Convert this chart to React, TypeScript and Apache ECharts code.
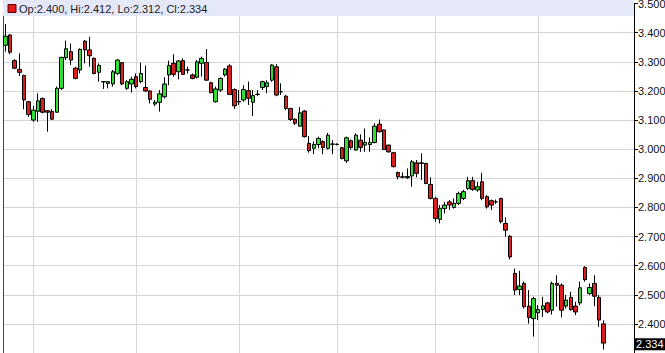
import { useEffect, useRef } from "react";
import * as echarts from "echarts";

const opens = [
  3.357, 3.392, 3.304, 3.274, 3.253, 3.163, 3.100, 3.130, 3.174, 3.132,
  3.129, 3.127, 3.209, 3.314, 3.335, 3.278, 3.272, 3.371, 3.341, 3.312,
  3.264, 3.232, 3.226, 3.224, 3.260, 3.297, 3.209, 3.224, 3.249, 3.232,
  3.212, 3.200, 3.155, 3.161, 3.180, 3.255, 3.295, 3.266, 3.304, 3.272,
  3.255, 3.247, 3.295, 3.298, 3.228, 3.163, 3.203, 3.255, 3.286, 3.205,
  3.164, 3.169, 3.201, 3.161, 3.188, 3.212, 3.215, 3.237, 3.283, 3.197,
  3.182, 3.140, 3.103, 3.079, 3.131, 3.020, 3.003, 3.016, 3.026, 3.003,
  3.017, 3.016, 3.005, 2.960, 3.029, 2.997, 3.031, 3.014, 3.016, 3.023,
  3.086, 3.066, 3.014, 2.988, 2.920, 2.905, 2.902, 2.908, 2.953, 2.953,
  2.951, 2.879, 2.831, 2.759, 2.796, 2.819, 2.800, 2.814, 2.831, 2.865,
  2.892, 2.860, 2.888, 2.837, 2.823, 2.819, 2.831, 2.745, 2.701, 2.573,
  2.518, 2.539, 2.461, 2.418, 2.438, 2.449, 2.472, 2.447, 2.539, 2.533,
  2.461, 2.491, 2.461, 2.472, 2.594, 2.504, 2.539, 2.491, 2.400,
];
const highs = [
  3.430, 3.395, 3.309, 3.329, 3.256, 3.166, 3.148, 3.192, 3.178, 3.134,
  3.137, 3.215, 3.318, 3.373, 3.363, 3.283, 3.346, 3.375, 3.386, 3.315,
  3.295, 3.234, 3.233, 3.272, 3.309, 3.300, 3.237, 3.249, 3.260, 3.297,
  3.287, 3.203, 3.169, 3.203, 3.247, 3.304, 3.326, 3.306, 3.312, 3.283,
  3.260, 3.306, 3.318, 3.344, 3.232, 3.215, 3.247, 3.278, 3.292, 3.209,
  3.203, 3.220, 3.232, 3.203, 3.203, 3.235, 3.237, 3.292, 3.292, 3.226,
  3.186, 3.142, 3.106, 3.145, 3.134, 3.045, 3.026, 3.043, 3.031, 3.056,
  3.031, 3.020, 3.008, 3.043, 3.033, 3.054, 3.051, 3.071, 3.040, 3.089,
  3.102, 3.068, 3.016, 2.991, 2.923, 2.920, 2.934, 2.963, 2.963, 2.986,
  2.953, 2.903, 2.837, 2.808, 2.819, 2.825, 2.831, 2.854, 2.860, 2.905,
  2.905, 2.888, 2.919, 2.842, 2.827, 2.827, 2.833, 2.766, 2.705, 2.590,
  2.582, 2.545, 2.516, 2.493, 2.464, 2.493, 2.476, 2.545, 2.567, 2.539,
  2.499, 2.510, 2.476, 2.545, 2.598, 2.539, 2.567, 2.499, 2.412,
];
const lows = [
  3.335, 3.326, 3.275, 3.251, 3.137, 3.111, 3.094, 3.094, 3.123, 3.060,
  3.100, 3.125, 3.203, 3.306, 3.289, 3.240, 3.260, 3.295, 3.283, 3.257,
  3.232, 3.207, 3.209, 3.215, 3.255, 3.220, 3.203, 3.194, 3.209, 3.226,
  3.197, 3.157, 3.148, 3.129, 3.174, 3.220, 3.249, 3.240, 3.255, 3.260,
  3.240, 3.243, 3.249, 3.235, 3.192, 3.160, 3.197, 3.249, 3.186, 3.138,
  3.152, 3.163, 3.152, 3.114, 3.182, 3.203, 3.192, 3.232, 3.182, 3.186,
  3.134, 3.097, 3.083, 3.077, 3.040, 2.988, 2.983, 3.003, 2.983, 2.999,
  2.983, 3.013, 2.965, 2.953, 2.999, 2.995, 2.991, 2.991, 2.991, 3.020,
  3.057, 2.997, 2.988, 2.937, 2.896, 2.900, 2.898, 2.871, 2.903, 2.894,
  2.880, 2.827, 2.751, 2.745, 2.779, 2.791, 2.796, 2.808, 2.825, 2.860,
  2.857, 2.854, 2.825, 2.796, 2.791, 2.812, 2.745, 2.699, 2.621, 2.499,
  2.499, 2.453, 2.401, 2.356, 2.413, 2.424, 2.436, 2.432, 2.459, 2.422,
  2.453, 2.445, 2.430, 2.464, 2.545, 2.499, 2.461, 2.390, 2.312,
];
const closes = [
  3.388, 3.333, 3.278, 3.264, 3.169, 3.119, 3.134, 3.166, 3.127, 3.127,
  3.103, 3.209, 3.315, 3.345, 3.306, 3.243, 3.343, 3.341, 3.321, 3.260,
  3.288, 3.231, 3.232, 3.266, 3.306, 3.224, 3.232, 3.240, 3.215, 3.260,
  3.200, 3.171, 3.161, 3.190, 3.224, 3.287, 3.257, 3.303, 3.257, 3.272,
  3.243, 3.300, 3.312, 3.237, 3.194, 3.207, 3.243, 3.275, 3.188, 3.149,
  3.162, 3.205, 3.175, 3.184, 3.189, 3.232, 3.228, 3.289, 3.186, 3.197,
  3.140, 3.102, 3.089, 3.125, 3.043, 2.995, 3.016, 3.037, 3.006, 3.048,
  3.018, 3.017, 2.968, 3.039, 3.006, 3.048, 3.006, 3.023, 3.023, 3.079,
  3.060, 2.999, 2.991, 2.940, 2.905, 2.904, 2.906, 2.957, 2.917, 2.951,
  2.882, 2.831, 2.762, 2.796, 2.808, 2.808, 2.814, 2.848, 2.854, 2.892,
  2.862, 2.871, 2.831, 2.802, 2.808, 2.819, 2.751, 2.722, 2.630, 2.516,
  2.530, 2.459, 2.422, 2.487, 2.449, 2.462, 2.441, 2.539, 2.533, 2.447,
  2.482, 2.449, 2.441, 2.524, 2.552, 2.525, 2.495, 2.413, 2.334,
];

// empty trading slots kept on the right of the last candle
const emptySlots = 6;
const categories = [
  ...opens.map((_, i) => `D${i + 1}`),
  ...Array.from({ length: emptySlots }, (_, i) => `E${i + 1}`),
];
// candles where a new month starts (vertical grid lines)
const monthStarts = [6, 28, 50, 71, 92, 114];

const yMin = 2.3;
const yMax = 3.5;
const yStep = 0.1;

const FONT = "'Liberation Sans', Arial, sans-serif";

export default function App() {
  const ref = useRef<HTMLDivElement>(null);

  useEffect(() => {
    const chart = echarts.init(ref.current!, null, { renderer: "svg" });
    const last = opens.length - 1;
    const fmt = (v: number) => v.toFixed(3);
    const legendText = `Op:${fmt(opens[last])}, Hi:${fmt(highs[last])}, Lo:${fmt(lows[last])}, Cl:${fmt(closes[last])}`;
    const data = opens.map((o, i) => [o, closes[i], lows[i], highs[i]]);

    chart.setOption({
      animation: false,
      backgroundColor: "#ffffff",
      grid: {
        left: 3,
        right: 31,
        top: 3.6,
        bottom: 0,
        containLabel: false,
        outerBoundsMode: "none",
      },
      xAxis: {
        type: "category",
        data: categories,
        boundaryGap: true,
        axisLine: { show: false },
        axisTick: { show: false },
        axisLabel: { show: false },
        splitLine: { show: false },
      },
      yAxis: [
        {
          type: "value",
          position: "right",
          min: yMin,
          max: yMax,
          interval: yStep,
          axisLine: { show: true, lineStyle: { color: "#000", width: 1 } },
          axisTick: { show: true, length: 4, lineStyle: { color: "#000" } },
          axisLabel: {
            margin: 4,
            color: "#111",
            fontFamily: FONT,
            fontSize: 11,
            formatter: (v: number) => v.toFixed(3),
            showMinLabel: false,
          },
          splitLine: { show: true, lineStyle: { color: "#d6d6d6", width: 1 } },
        },
        {
          type: "value",
          position: "left",
          min: yMin,
          max: yMax,
          axisLine: { show: true, lineStyle: { color: "#444", width: 1 } },
          axisTick: { show: false },
          axisLabel: { show: false },
          splitLine: { show: false },
        },
      ],
      series: [
        {
          type: "candlestick",
          data,
          barWidth: 4,
          itemStyle: {
            color: "#33dd33",
            color0: "#dc1e1e",
            borderColor: "#000",
            borderColor0: "#000",
            borderColorDoji: "#000",
            borderWidth: 1,
          },
          markLine: {
            silent: true,
            z: 1,
            symbol: ["none", "none"],
            label: { show: false },
            lineStyle: { color: "#d6d6d6", type: "solid", width: 1 },
            data: [
              ...monthStarts.map((i) => ({ xAxis: categories[i] })),
              {
                yAxis: closes[last],
                lineStyle: { color: "transparent", width: 0 },
                label: {
                  show: true,
                  position: "end",
                  distance: 1,
                  formatter: fmt(closes[last]),
                  color: "#fff",
                  backgroundColor: "#000",
                  padding: [1, 2, 0, 1],
                  fontSize: 11,
                  fontFamily: FONT,
                },
              },
            ],
          },
        },
      ],
      graphic: [
        {
          type: "rect",
          z: 100,
          shape: { x: 3, y: 0, width: 631, height: 16 },
          style: { fill: "#e4e8f8" },
        },
        {
          type: "rect",
          z: 101,
          shape: { x: 8, y: 4.5, width: 8, height: 8 },
          style: { fill: "#e01818", stroke: "#5a0000", lineWidth: 1 },
        },
        {
          type: "text",
          z: 101,
          style: {
            text: legendText,
            x: 19,
            y: 9,
            verticalAlign: "middle",
            fill: "#222",
            font: `11px ${FONT}`,
          },
        },
      ],
    });

    return () => chart.dispose();
  }, []);

  return (
    <div
      ref={ref}
      style={{ position: "fixed", left: 0, top: 0, width: 665, height: 353 }}
    />
  );
}
